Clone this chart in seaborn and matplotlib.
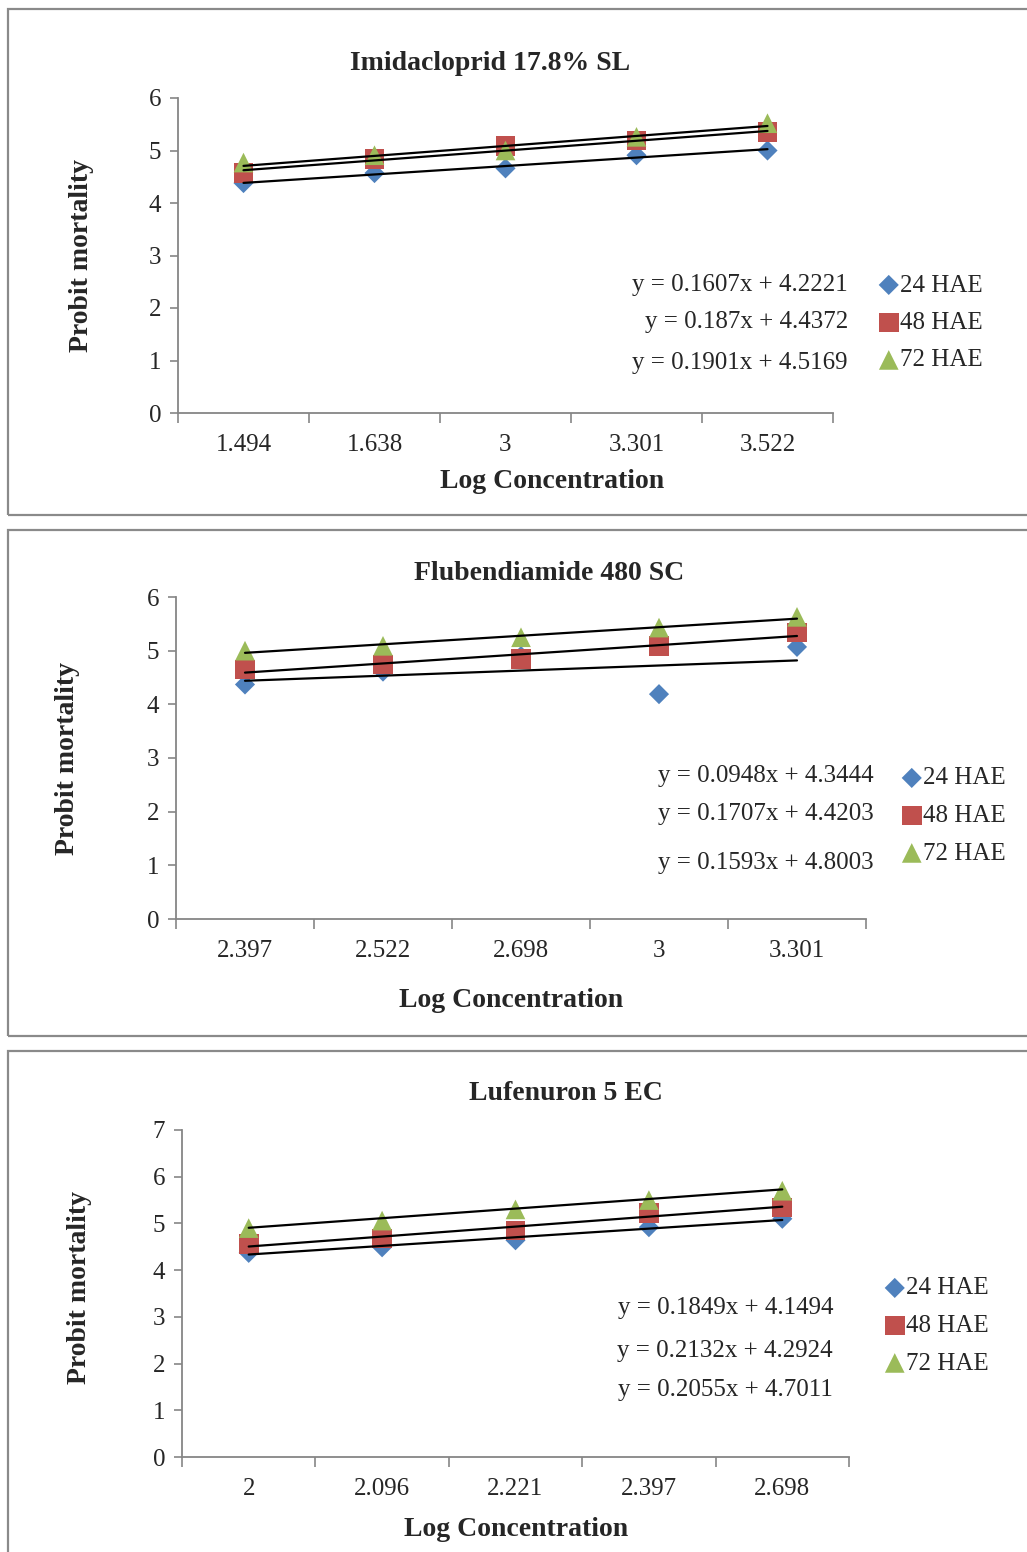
import numpy as np
import pandas as pd
import matplotlib
matplotlib.use('Agg')
import matplotlib.pyplot as plt
from matplotlib.patches import Rectangle
import seaborn as sns

# data
series_names = ['24 HAE', '48 HAE', '72 HAE']

imid_cats = ['1.494', '1.638', '3', '3.301', '3.522']
imid_24 = [4.38, 4.57, 4.66, 4.91, 5.00]
imid_48 = [4.57, 4.84, 5.09, 5.19, 5.35]
imid_72 = [4.77, 4.91, 5.00, 5.26, 5.52]
imid_slope = [0.1607, 0.187, 0.1901]
imid_icpt = [4.2221, 4.4372, 4.5169]

flub_cats = ['2.397', '2.522', '2.698', '3', '3.301']
flub_24 = [4.37, 4.61, 4.90, 4.19, 5.07]
flub_48 = [4.65, 4.74, 4.84, 5.09, 5.34]
flub_72 = [5.00, 5.09, 5.25, 5.43, 5.63]
flub_slope = [0.0948, 0.1707, 0.1593]
flub_icpt = [4.3444, 4.4203, 4.8003]

lufe_cats = ['2', '2.096', '2.221', '2.397', '2.698']
lufe_24 = [4.37, 4.49, 4.64, 4.92, 5.10]
lufe_48 = [4.56, 4.68, 4.85, 5.23, 5.34]
lufe_72 = [4.90, 5.06, 5.30, 5.50, 5.70]
lufe_slope = [0.1849, 0.2132, 0.2055]
lufe_icpt = [4.1494, 4.2924, 4.7011]

sns.set_style('white')
plt.rcParams['font.family'] = ['Liberation Serif', 'DejaVu Serif']

W, H = 1027, 1552
fig = plt.figure(figsize=(W / 100, H / 100), dpi=100)

colors = ['#4F81BD', '#C0504D', '#9BBB59']
markers = ['D', 's', '^']
msizes = [105, 200, 200]


def fx(x):
    return x / W


def fy(y):
    return 1 - y / H


def panel(box, ax_px, ymax, title, title_xy, xlab_xy, ylab_xy,
          cats, vals, slopes, icpts, eq_right, eq_ys, leg_xy):
    # outer frame
    fig.patches.append(Rectangle((fx(box[0]), fy(box[3])), fx(box[2] - box[0]),
                                 (box[3] - box[1]) / H, transform=fig.transFigure,
                                 fill=False, edgecolor='#8a8a8a', lw=1.6))
    l, r, t, b = ax_px
    ax = fig.add_axes([fx(l), fy(b), fx(r - l), (b - t) / H])
    xs = np.arange(1, len(cats) + 1)
    for i, v in enumerate(vals):
        sns.scatterplot(x=xs, y=v, ax=ax, marker=markers[i], s=msizes[i],
                        color=colors[i], edgecolor='none', label=series_names[i],
                        zorder=3 + i)
    for i in range(3):
        xl = np.array([1, len(cats)])
        sns.lineplot(x=xl, y=slopes[i] * xl + icpts[i], ax=ax, color='black',
                     lw=1.6, zorder=10)
    ax.set_xlim(0.5, len(cats) + 0.5)
    ax.set_ylim(0, ymax)
    ax.set_xticks(np.arange(0.5, len(cats) + 1, 1))
    ax.set_xticklabels([])
    ax.set_xticks(xs, minor=True)
    ax.set_xticklabels(cats, minor=True, fontsize=18)
    ax.tick_params(axis='x', which='major', length=7, width=1.2, color='#868686',
                   direction='out', bottom=True)
    ax.tick_params(axis='x', which='minor', length=0, pad=15)
    ax.set_yticks(range(0, ymax + 1))
    ax.tick_params(axis='y', length=6, width=1.2, color='#868686', direction='out',
                   left=True, labelsize=18, pad=6)
    for s in ['top', 'right']:
        ax.spines[s].set_visible(False)
    for s in ['left', 'bottom']:
        ax.spines[s].set_color('#868686')
        ax.spines[s].set_linewidth(1.3)
    ax.set_xlabel('')
    ax.set_ylabel('')
    handles, labels = ax.get_legend_handles_labels()
    ax.legend(handles[:3], labels[:3], loc='upper left',
              bbox_to_anchor=(fx(leg_xy[0]), fy(leg_xy[1])),
              bbox_transform=fig.transFigure, frameon=False, fontsize=18,
              handlelength=0.7, handletextpad=0.1, labelspacing=0.6,
              borderaxespad=0, borderpad=0, markerscale=1.0)

    fig.text(fx(title_xy[0]), fy(title_xy[1]), title, ha='center', va='center',
             fontsize=20, fontweight='bold')
    fig.text(fx(xlab_xy[0]), fy(xlab_xy[1]), 'Log Concentration', ha='center',
             va='center', fontsize=20, fontweight='bold')
    fig.text(fx(ylab_xy[0]), fy(ylab_xy[1]), 'Probit mortality', ha='center',
             va='center', rotation=90, fontsize=20, fontweight='bold')
    for i in range(3):
        fig.text(fx(eq_right), fy(eq_ys[i]), f'y = {slopes[i]:g}x + {icpts[i]:g}',
                 ha='right', va='center', fontsize=18)
    return ax


panel((8, 9, 1040, 515), (178, 833, 98, 413), 6, 'Imidacloprid 17.8% SL',
      (490, 64), (552, 481), (82, 255),
      imid_cats, [imid_24, imid_48, imid_72], imid_slope, imid_icpt,
      848, [285, 322, 363], (880, 274))

panel((8, 530, 1040, 1036), (176, 866, 597, 919), 6, 'Flubendiamide 480 SC',
      (549, 573), (511, 1000), (67, 758),
      flub_cats, [flub_24, flub_48, flub_72], flub_slope, flub_icpt,
      874, [776, 814, 863], (903, 767))

panel((8, 1051, 1040, 1570), (182, 849, 1130, 1457), 7, 'Lufenuron 5 EC',
      (566, 1094), (516, 1529), (80, 1287),
      lufe_cats, [lufe_24, lufe_48, lufe_72], lufe_slope, lufe_icpt,
      833, [1308, 1351, 1390], (886, 1277))

fig.savefig('out.png', dpi=100)
